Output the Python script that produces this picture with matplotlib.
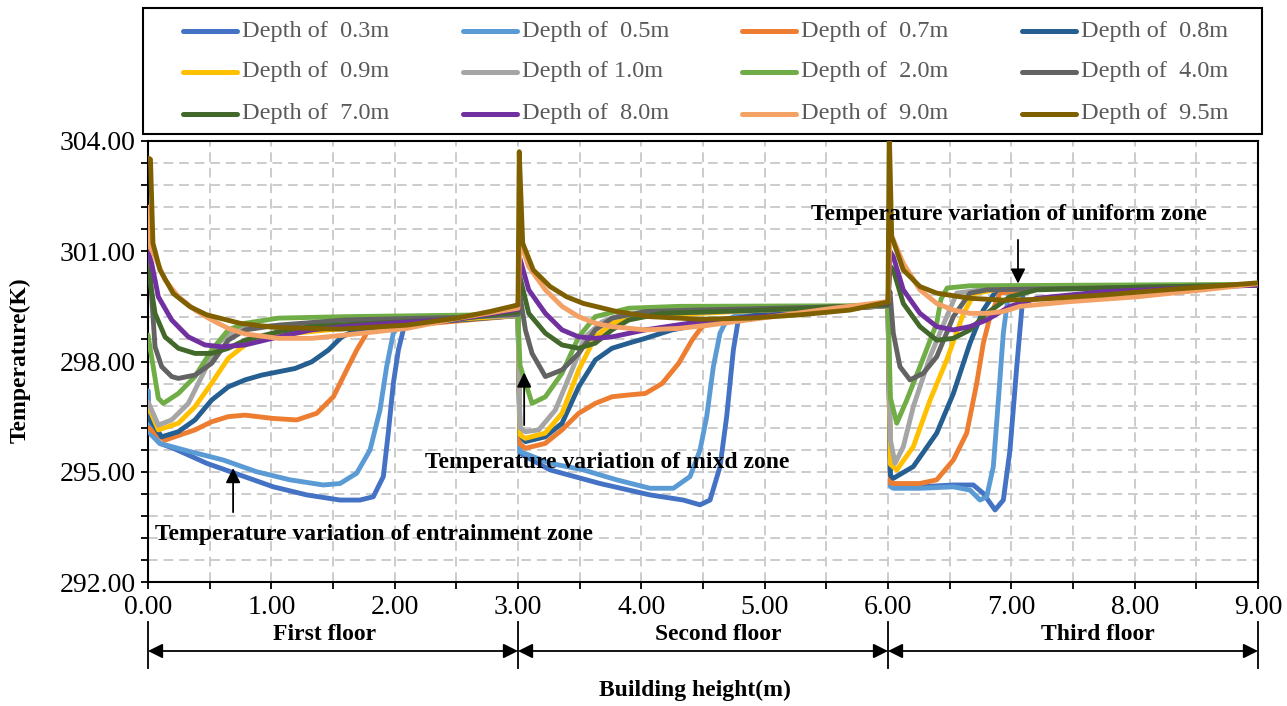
import matplotlib
matplotlib.use('Agg')
import matplotlib.pyplot as plt
import matplotlib.transforms as mtransforms
from matplotlib.lines import Line2D
from matplotlib.patches import Rectangle
from matplotlib.ticker import FormatStrFormatter
import numpy as np

plt.rcParams['font.family'] = ['Liberation Serif', 'DejaVu Serif']

# ---------------- data (height m, temperature K) ----------------
labels = ["Depth of  0.3m", "Depth of  0.5m", "Depth of  0.7m", "Depth of  0.8m",
          "Depth of  0.9m", "Depth of 1.0m", "Depth of  2.0m", "Depth of  4.0m",
          "Depth of  7.0m", "Depth of  8.0m", "Depth of  9.0m", "Depth of  9.5m"]
colors = ["#4472C4", "#5B9BD5", "#ED7D31", "#255E91", "#FFC000", "#A5A5A5",
          "#70AD47", "#636363", "#43682B", "#7030A0", "#F4A166", "#7F6000"]

x_03 = [0.0, 0.016, 0.097, 0.205, 0.476, 0.746, 1.016, 1.287, 1.557, 1.719, 1.827, 1.908, 1.948, 1.989, 2.03, 2.07, 2.12, 2.5, 2.8, 3.0,
        3.016, 3.26, 3.665, 4.07, 4.34, 4.476, 4.557, 4.638, 4.692, 4.746, 4.786, 4.85, 5.5, 6.0,
        6.02, 6.043, 6.259, 6.53, 6.692, 6.773, 6.868, 6.935, 6.989, 7.044, 7.084, 7.097, 7.3, 8.0, 9.0]
t_03 = [297.2, 296.05, 295.77, 295.64, 295.23, 294.91, 294.59, 294.37, 294.23, 294.23, 294.32, 294.87, 296.05, 297.4, 298.31, 298.86, 299.05, 299.15, 299.2, 299.25,
        295.5, 295.05, 294.68, 294.37, 294.23, 294.1, 294.23, 295.14, 296.5, 298.31, 299.13, 299.3, 299.4, 299.52,
        294.65, 294.59, 294.59, 294.64, 294.64, 294.41, 293.96, 294.23, 295.59, 297.86, 299.4, 299.95, 300.0, 300.02, 300.08]

x_05 = [0.0, 0.016, 0.097, 0.34, 0.61, 0.881, 1.151, 1.421, 1.557, 1.692, 1.8, 1.881, 1.935, 1.989, 2.043, 2.5, 3.0,
        3.016, 3.26, 3.53, 3.80, 4.07, 4.26, 4.395, 4.476, 4.53, 4.584, 4.638, 4.692, 4.8, 5.5, 6.0,
        6.02, 6.043, 6.259, 6.53, 6.665, 6.746, 6.80, 6.854, 6.895, 6.935, 6.963, 6.989, 7.3, 8.0, 9.0]
t_05 = [297.2, 296.05, 295.77, 295.55, 295.32, 295.0, 294.78, 294.64, 294.68, 294.96, 295.59, 296.68, 297.86, 298.77, 299.0, 299.15, 299.25,
        295.55, 295.23, 295.05, 294.78, 294.55, 294.55, 294.87, 295.59, 296.5, 297.86, 298.77, 299.13, 299.3, 299.4, 299.52,
        294.6, 294.55, 294.55, 294.59, 294.5, 294.23, 294.32, 295.14, 296.95, 298.77, 299.5, 299.95, 300.0, 300.02, 300.08]

x_07 = [0.0, 0.138, 0.381, 0.516, 0.651, 0.787, 1.016, 1.206, 1.368, 1.503, 1.611, 1.692, 1.773, 1.84, 2.5, 3.0,
        3.016, 3.06, 3.22, 3.357, 3.492, 3.627, 3.762, 3.898, 4.032, 4.168, 4.303, 4.411, 4.492, 4.7, 5.5, 6.0,
        6.02, 6.043, 6.259, 6.395, 6.53, 6.638, 6.719, 6.773, 6.827, 6.908, 7.2, 8.0, 9.0]
t_07 = [296.2, 295.86, 296.14, 296.36, 296.5, 296.54, 296.45, 296.41, 296.59, 297.04, 297.77, 298.31, 298.77, 298.9, 299.1, 299.25,
        295.75, 295.64, 295.77, 296.14, 296.59, 296.86, 297.04, 297.09, 297.13, 297.4, 297.95, 298.58, 298.95, 299.15, 299.4, 299.52,
        294.7, 294.68, 294.68, 294.78, 295.32, 296.05, 297.4, 298.5, 299.22, 299.86, 300.0, 300.02, 300.08]

x_08 = [0.0, 0.111, 0.246, 0.381, 0.516, 0.651, 0.787, 0.922, 1.057, 1.192, 1.327, 1.462, 1.571, 1.692, 2.2, 3.0,
        3.016, 3.06, 3.22, 3.357, 3.492, 3.627, 3.762, 3.898, 4.032, 4.249, 4.465, 5.0, 6.0,
        6.02, 6.043, 6.205, 6.395, 6.53, 6.665, 6.773, 6.882, 7.2, 8.0, 9.0]
t_08 = [296.5, 295.95, 296.09, 296.41, 296.95, 297.31, 297.5, 297.63, 297.72, 297.81, 297.99, 298.31, 298.67, 298.86, 299.05, 299.25,
        296.0, 295.82, 295.95, 296.32, 297.31, 298.04, 298.36, 298.5, 298.63, 298.86, 299.0, 299.3, 299.52,
        294.9, 294.82, 295.14, 296.05, 297.13, 298.5, 299.4, 299.95, 300.0, 300.02, 300.08]

x_09 = [0.0, 0.084, 0.246, 0.381, 0.516, 0.651, 0.787, 0.922, 1.192, 1.462, 2.0, 3.0,
        3.016, 3.06, 3.22, 3.357, 3.492, 3.627, 3.762, 3.979, 5.0, 6.0,
        6.02, 6.071, 6.205, 6.341, 6.476, 6.611, 6.70, 6.9, 8.0, 9.0]
t_09 = [296.8, 296.14, 296.32, 296.77, 297.41, 298.09, 298.45, 298.63, 298.77, 298.86, 299.05, 299.25,
        296.0, 295.91, 296.05, 296.59, 297.77, 298.67, 299.04, 299.22, 299.4, 299.52,
        295.2, 295.05, 295.68, 296.95, 298.04, 299.3, 299.85, 299.97, 300.02, 300.08]

x_10 = [0.0, 0.084, 0.192, 0.327, 0.462, 0.57, 0.705, 0.868, 1.192, 2.0, 3.0,
        3.016, 3.06, 3.168, 3.303, 3.438, 3.546, 3.681, 3.843, 5.0, 6.0,
        6.02, 6.057, 6.124, 6.205, 6.341, 6.476, 6.557, 6.8, 8.0, 9.0]
t_10 = [296.9, 296.27, 296.41, 296.86, 297.77, 298.5, 298.86, 298.95, 299.0, 299.15, 299.25,
        296.2, 296.09, 296.14, 296.68, 297.77, 298.67, 299.08, 299.27, 299.4, 299.52,
        295.86, 295.23, 295.68, 296.77, 298.13, 299.22, 299.86, 299.97, 300.02, 300.08]

x_20 = [0.0, 0.04, 0.084, 0.124, 0.246, 0.381, 0.516, 0.651, 0.787, 1.057, 1.597, 3.0,
        3.016, 3.114, 3.222, 3.357, 3.492, 3.627, 3.898, 4.303, 6.0,
        6.02, 6.071, 6.152, 6.259, 6.395, 6.43, 6.48, 6.665, 9.0]
t_20 = [298.72, 297.9, 297.0, 296.86, 297.13, 297.59, 298.31, 298.86, 299.04, 299.18, 299.22, 299.28,
        297.9, 296.86, 297.04, 297.68, 298.67, 299.22, 299.45, 299.5, 299.52,
        297.0, 296.32, 296.95, 297.86, 299.04, 299.7, 300.0, 300.06, 300.1]

x_40 = [0.0, 0.03, 0.057, 0.111, 0.192, 0.246, 0.381, 0.516, 0.651, 0.787, 1.057, 1.597, 2.5, 3.0,
        3.016, 3.06, 3.114, 3.222, 3.357, 3.492, 3.627, 3.762, 4.032, 4.438, 6.0,
        6.016, 6.043, 6.097, 6.178, 6.286, 6.395, 6.53, 6.665, 6.80, 8.0, 9.0]
t_40 = [301.3, 299.76, 298.4, 297.86, 297.59, 297.54, 297.63, 297.95, 298.58, 298.86, 298.99, 299.13, 299.2, 299.28,
        299.8, 298.86, 298.22, 297.59, 297.77, 298.22, 298.86, 299.18, 299.36, 299.4, 299.52,
        299.9, 298.77, 297.86, 297.5, 297.68, 298.13, 299.22, 299.86, 299.95, 300.02, 300.08]

x_70 = [0.0, 0.016, 0.057, 0.138, 0.246, 0.381, 0.516, 0.651, 0.787, 1.057, 1.327, 1.597, 2.5, 3.0,
        3.016, 3.087, 3.222, 3.357, 3.492, 3.627, 3.762, 3.898, 4.168, 5.0, 6.0,
        6.016, 6.043, 6.124, 6.259, 6.395, 6.53, 6.665, 6.80, 6.989, 7.206, 8.0, 9.0]
t_70 = [300.5, 300.22, 299.31, 298.67, 298.36, 298.22, 298.22, 298.36, 298.58, 298.81, 298.95, 299.0, 299.15, 299.35,
        300.3, 299.31, 298.77, 298.45, 298.36, 298.5, 298.86, 299.13, 299.31, 299.4, 299.55,
        300.6, 300.49, 299.58, 298.95, 298.58, 298.63, 298.86, 299.31, 299.76, 299.95, 300.02, 300.08]

x_80 = [0.0, 0.03, 0.084, 0.192, 0.327, 0.462, 0.598, 0.787, 1.057, 1.327, 1.597, 2.0, 2.5, 3.0,
        3.016, 3.087, 3.222, 3.357, 3.492, 3.627, 3.762, 4.032, 4.303, 4.573, 5.3, 6.0,
        6.016, 6.043, 6.124, 6.259, 6.395, 6.53, 6.665, 6.80, 6.989, 7.206, 7.746, 9.0]
t_80 = [301.0, 300.67, 299.76, 299.13, 298.67, 298.45, 298.4, 298.45, 298.67, 298.86, 298.95, 299.05, 299.15, 299.42,
        300.8, 299.95, 299.31, 298.86, 298.67, 298.63, 298.67, 298.86, 299.0, 299.13, 299.3, 299.6,
        301.0, 300.85, 299.95, 299.31, 298.95, 298.86, 298.95, 299.13, 299.5, 299.72, 299.9, 300.08]

x_90 = [0.0, 0.016, 0.057, 0.138, 0.246, 0.381, 0.516, 0.651, 0.787, 1.057, 1.327, 1.597, 2.098, 2.503, 2.908, 3.0,
        3.016, 3.087, 3.222, 3.357, 3.492, 3.627, 3.762, 4.032, 4.303, 4.573, 5.017, 5.557, 6.0,
        6.016, 6.043, 6.124, 6.259, 6.395, 6.53, 6.665, 6.80, 6.935, 7.07, 7.476, 8.017, 8.557, 9.0]
t_90 = [302.2, 301.12, 300.85, 300.22, 299.76, 299.4, 299.13, 298.9, 298.75, 298.63, 298.63, 298.72, 298.9, 299.17, 299.4, 299.45,
        301.3, 300.58, 299.95, 299.5, 299.22, 299.04, 298.95, 298.86, 298.9, 299.0, 299.2, 299.45, 299.63,
        301.5, 301.31, 300.67, 299.95, 299.58, 299.4, 299.31, 299.31, 299.36, 299.5, 299.63, 299.76, 299.95, 300.12]

x_95 = [0.0, 0.02, 0.04, 0.097, 0.205, 0.341, 0.476, 0.746, 1.016, 1.557, 2.098, 2.503, 2.773, 3.0,
        3.01, 3.038, 3.124, 3.26, 3.395, 3.53, 3.80, 4.07, 4.476, 4.881, 5.287, 5.692, 6.0,
        6.01, 6.03, 6.124, 6.259, 6.395, 6.665, 6.935, 7.206, 7.746, 8.287, 9.0]
t_95 = [303.54, 303.5, 301.22, 300.49, 299.85, 299.49, 299.27, 299.04, 298.93, 298.88, 298.99, 299.18, 299.36, 299.54,
        303.71, 301.22, 300.49, 300.04, 299.76, 299.58, 299.36, 299.22, 299.15, 299.18, 299.27, 299.4, 299.62,
        304.3, 301.4, 300.49, 300.04, 299.86, 299.72, 299.67, 299.69, 299.81, 299.96, 300.14]

xs = [x_03, x_05, x_07, x_08, x_09, x_10, x_20, x_40, x_70, x_80, x_90, x_95]
ts = [t_03, t_05, t_07, t_08, t_09, t_10, t_20, t_40, t_70, t_80, t_90, t_95]

floor_names = ["First floor", "Second floor", "Third floor"]
floor_bounds = [0.0, 3.0, 6.0, 9.0]
x_major = [0, 1, 2, 3, 4, 5, 6, 7, 8, 9]
y_major = [292, 295, 298, 301, 304]

# ---------------- figure ----------------
W, H = 1287, 706
fig = plt.figure(figsize=(W / 100, H / 100), dpi=100)
ax = fig.add_axes([148 / W, (H - 582) / H, (1258 - 148) / W, (582 - 141) / H])

for x, t, c in zip(xs, ts, colors):
    ax.plot(x, t, color=c, lw=3.5, solid_joinstyle='round', solid_capstyle='round', zorder=3)

ax.set_xlim(0, 9)
ax.set_ylim(292, 304)
ax.set_xticks(x_major)
ax.set_xticks(np.arange(0, 9.001, 0.5), minor=True)
ax.set_yticks(y_major)
ax.set_yticks(np.round(np.arange(292, 304.001, 0.6), 2), minor=True)
ax.xaxis.set_major_formatter(FormatStrFormatter('%.2f'))
ax.yaxis.set_major_formatter(FormatStrFormatter('%.2f'))
ax.tick_params(which='both', direction='out', length=5, width=1.3, labelsize=20, colors='black')
ax.tick_params(axis='x', pad=4)
ax.tick_params(axis='y', pad=4)
ax.grid(which='both', color='#CCCCCC', lw=1.4, linestyle=(0, (5, 3)))
ax.set_axisbelow(True)
for s in ax.spines.values():
    s.set_linewidth(1.5)
    s.set_color('black')

bold = dict(fontsize=17, fontweight='bold', color='black')
arr = dict(arrowstyle='-|>', color='black', lw=1.3, mutation_scale=22, shrinkA=0, shrinkB=0)

ax.text(0.057, 293.28, 'Temperature variation of entrainment zone', ha='left', va='center', **bold)
ax.annotate('', xy=(0.69, 295.1), xytext=(0.69, 293.9), arrowprops=arr)
ax.text(3.72, 295.24, 'Temperature variation of mixd zone', ha='center', va='center', **bold)
ax.annotate('', xy=(3.05, 297.7), xytext=(3.05, 296.27), arrowprops=arr)
ax.text(6.98, 302.01, 'Temperature variation of uniform zone', ha='center', va='center', **bold)
ax.annotate('', xy=(7.054, 300.12), xytext=(7.054, 301.31), arrowprops=arr)

# floor markers below the axis
trans = mtransforms.blended_transform_factory(ax.transData, ax.transAxes)
def yf(py):
    return (582 - py) / 441.0

for xb in floor_bounds:
    ax.plot([xb, xb], [yf(622), yf(668)], transform=trans, clip_on=False, color='black', lw=1.3)
floor_label_x = [1.435, 4.62, 7.70]
for i, name in enumerate(floor_names):
    ax.annotate('', xy=(floor_bounds[i + 1], yf(651)), xytext=(floor_bounds[i], yf(651)),
                xycoords=trans, textcoords=trans, annotation_clip=False,
                arrowprops=dict(arrowstyle='<|-|>', color='black', lw=1.3, mutation_scale=22,
                                shrinkA=0, shrinkB=0))
    ax.text(floor_label_x[i], yf(634), name, transform=trans, ha='center', va='center', **bold)

fig.text(695 / W, 1 - 690 / H, 'Building height(m)', ha='center', va='center', **bold)
fig.text(20 / W, 1 - 360 / H, 'Temperature(K)', rotation=90, ha='center', va='center', **bold)

# legend box (row-wise order as in the reference)
fig.add_artist(Rectangle((143 / W, 1 - 134 / H), (1262 - 143) / W, (134 - 8) / H,
                         transform=fig.transFigure, fill=False, edgecolor='black', lw=1.5))
row_y = [31, 72, 114]
col_x = [183, 463, 742, 1022]
for k, (lab, c) in enumerate(zip(labels, colors)):
    r, cc = divmod(k, 4)
    y = 1 - row_y[r] / H
    x0 = col_x[cc]
    fig.add_artist(Line2D([x0 / W, (x0 + 54) / W], [y, y], transform=fig.transFigure,
                          color=c, lw=3.6, solid_capstyle='round'))
    fig.text((x0 + 59) / W, y, lab, fontsize=17.5, color='#595959', ha='left', va='center')

fig.savefig('out.png', dpi=100)
